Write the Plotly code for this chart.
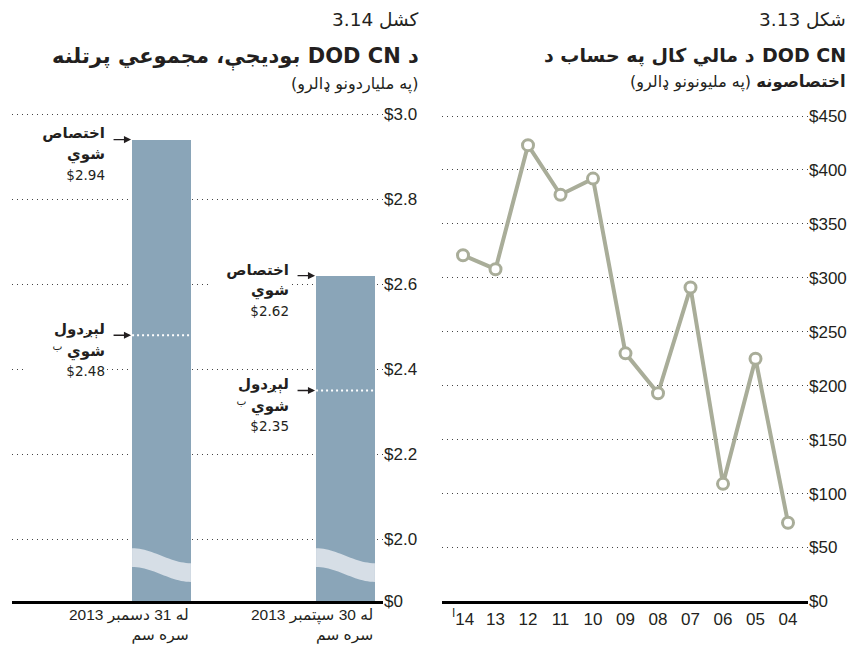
import math
import plotly.graph_objects as go

W, H = 857, 645

# ---------------- data: left panel (bars) ----------------
bar_dates = ["له 31 دسمبر 2013<br>سره سم", "له 30 سپتمبر 2013<br>سره سم"]
allocated = [2.94, 2.62]
transferred = [2.48, 2.35]
alloc_words = ["اختصاص", "شوي"]
transfer_words = ["لېږدول", "شوي"]
left_tick_values = [2.0, 2.2, 2.4, 2.6, 2.8, 3.0]
left_tick_text = ["$0", "$2.0", "$2.2", "$2.4", "$2.6", "$2.8", "$3.0"]

# ---------------- data: right panel (line) ----------------
years = ["14", "13", "12", "11", "10", "09", "08", "07", "06", "05", "04"]
appropriations = [321, 308, 423, 377, 392, 230, 193, 291, 109, 225, 73]
right_tick_values = [0, 50, 100, 150, 200, 250, 300, 350, 400, 450]
right_tick_text = ["$0", "$50", "$100", "$150", "$200", "$250", "$300", "$350", "$400", "$450"]

# ---------------- styling ----------------
TXT = "#231f20"
BAR_COLOR = "#8aa5b8"
BAND_COLOR = "#d6dee6"
LINE_COLOR = "#a9ad99"
GRID = dict(showgrid=True, gridcolor="#444444", gridwidth=1, griddash="1px,4px")
AR_FONT = "DejaVu Sans"
NUM_FONT = "Liberation Sans, DejaVu Sans"
BAR_W = 0.32
LEFT_FLOOR = 1.854  # broken-axis position representing $0
YS = 1.0165         # vertical compensation for the capture
LRM = "\u200e"

def px_x(p):
    return p / W

def px_y(p):
    return 1 - p * YS / H

Y_DOMAIN = [px_y(601), px_y(105.5)]

fig = go.Figure()

bar_x = list(range(len(allocated)))
fig.add_trace(go.Bar(x=bar_x, y=allocated, width=BAR_W, marker=dict(color=BAR_COLOR, line=dict(width=0)),
                     xaxis="x", yaxis="y", hoverinfo="skip"))

for i, v in zip(bar_x, transferred):
    fig.add_trace(go.Scatter(x=[i - BAR_W / 2, i + BAR_W / 2], y=[v, v], mode="lines",
                             line=dict(color="white", width=2, dash="2px,3px"),
                             xaxis="x", yaxis="y", hoverinfo="skip"))

# axis-break bands
shapes = []
band_top = 1.979
band_drop = 0.035
band_thick = 0.044
for i in bar_x:
    n = 24
    top = []
    for k in range(n + 1):
        t = k / n
        xx = i - BAR_W / 2 + t * BAR_W
        yy = band_top - band_drop * (0.5 - 0.5 * math.cos(math.pi * t))
        top.append((xx, yy))
    bot = [(xx, yy - band_thick) for xx, yy in reversed(top)]
    pts = top + bot
    path = "M " + " L ".join(f"{a:.4f},{b:.4f}" for a, b in pts) + " Z"
    shapes.append(dict(type="path", path=path, xref="x", yref="y", fillcolor=BAND_COLOR,
                       line=dict(width=0), layer="above"))

fig.add_trace(go.Scatter(x=years, y=appropriations, mode="lines+markers",
                         line=dict(color=LINE_COLOR, width=4),
                         marker=dict(symbol="circle", size=11, color="white",
                                     line=dict(color=LINE_COLOR, width=3)),
                         xaxis="x2", yaxis="y2", hoverinfo="skip"))

annotations = []

def label_block(i, value, words, sup=False):
    xa = i - BAR_W / 2
    annotations.append(dict(x=xa, y=value, xref="x", yref="y", text="", showarrow=True,
                            ax=-20, ay=0, arrowhead=2, arrowsize=1.1, arrowwidth=1.3,
                            arrowcolor=TXT, standoff=1))
    lines = [f"<b>{words[0]}</b>", f"<b>{words[1]}</b>", f"${value:.2f}"]
    if sup:
        lines[1] = f"<b>{words[1]}</b> <sup>ب</sup>"
    shifts = [6, -15, -35]
    for k, (txt, sh) in enumerate(zip(lines, shifts)):
        annotations.append(dict(x=xa, y=value, xref="x", yref="y", text=txt, showarrow=False,
                                xanchor="right", yanchor="middle", xshift=-26, yshift=sh * YS,
                                align="right", width=80, bgcolor="white", borderpad=0,
                                font=dict(family=AR_FONT, size=15 if k < 2 else 13.5, color=TXT)))

for i in bar_x:
    label_block(i, allocated[i], alloc_words)
    label_block(i, transferred[i], transfer_words, sup=True)

for i, lab in zip(bar_x, bar_dates):
    annotations.append(dict(x=i + BAR_W / 2, y=px_y(604), xref="x", yref="paper", text=lab,
                            showarrow=False, xanchor="right", yanchor="top", align="right",
                            font=dict(family=NUM_FONT, size=15.5, color=TXT)))

def title(text, xr, yc, size, bold=False, family=AR_FONT):
    annotations.append(dict(x=px_x(xr), y=px_y(yc), xref="paper", yref="paper",
                            text=(f"<b>{text}</b>" if bold else text), showarrow=False,
                            xanchor="right", yanchor="middle", align="right",
                            font=dict(family=family, size=size, color=TXT)))

# left panel heading
title("کشل 3.14", 421, 19, 18.5)
title("بودیجې، مجموعي پرتلنه DOD CN د", 421, 57, 21, bold=True)
title("(په ملیاردونو ډالرو)", 421, 84, 16)
# right panel heading
title("شکل 3.13", 848, 19, 18.5)
title("DOD CN", 848, 55, 19, bold=True)
title("د مالي کال په حساب د", 757, 55, 19, bold=True)
title("<b>اختصاصونه</b> <span style='font-size:16px'>(په ملیونونو ډالرو)</span>", 848, 82, 16.5)

tick_text_x = ["<sup>ا</sup>" + LRM + years[0]] + years[1:]

fig.update_layout(
    width=W, height=H, margin=dict(l=0, r=0, t=0, b=0),
    paper_bgcolor="white", plot_bgcolor="white", showlegend=False,
    shapes=shapes, annotations=annotations, bargap=0,
    xaxis=dict(domain=[px_x(12), px_x(383)], range=[-0.8125, 1.2038], showgrid=False,
               zeroline=False, showticklabels=False, ticks="", showline=True,
               linecolor="black", linewidth=2.5, anchor="y", fixedrange=True),
    yaxis=dict(domain=Y_DOMAIN, range=[LEFT_FLOOR, 3.02], side="right", anchor="x",
               tickvals=[LEFT_FLOOR] + left_tick_values, ticktext=left_tick_text,
               zeroline=False, ticks="", showline=False,
               tickfont=dict(family=NUM_FONT, size=17, color=TXT), **GRID),
    xaxis2=dict(domain=[px_x(442), px_x(808)], type="category", categoryorder="array",
                categoryarray=years, range=[-0.646, 10.615], tickvals=years, ticktext=tick_text_x,
                showgrid=False, zeroline=False, ticks="", showline=True, linecolor="black",
                linewidth=2.5, anchor="y2",
                tickfont=dict(family=NUM_FONT, size=17, color=TXT)),
    yaxis2=dict(domain=Y_DOMAIN, range=[0, 459.7], side="right", anchor="x2",
                tickvals=right_tick_values, ticktext=right_tick_text,
                zeroline=False, ticks="", showline=False,
                tickfont=dict(family=NUM_FONT, size=17, color=TXT), **GRID),
)

fig.write_html("out.html")
